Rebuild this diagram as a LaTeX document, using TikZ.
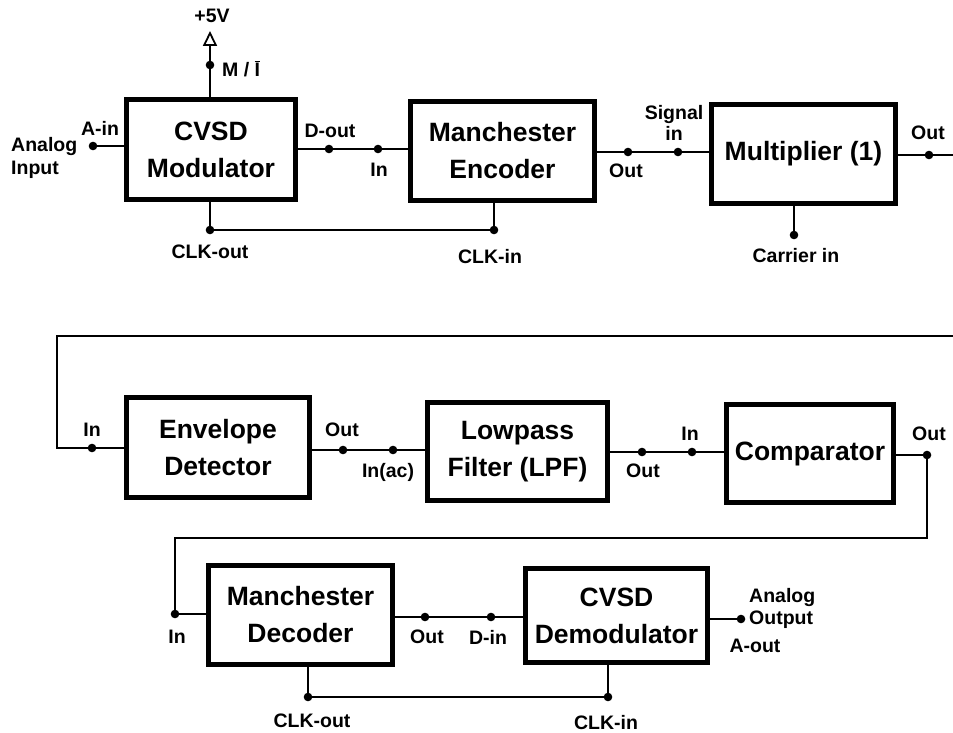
\documentclass[tikz,border=0pt]{standalone}
\usepackage{fontspec}
\setmainfont{Liberation Sans}
\usetikzlibrary{arrows.meta}
\tikzset{
  blk/.style={draw, line width=5pt, fill=white, align=center, inner sep=0pt,
    font=\bfseries\fontsize{26.5}{37}\selectfont},
  wire/.style={line width=2.2pt},
  lbl/.style={font=\bfseries\fontsize{19.5}{22}\selectfont, inner sep=0pt}
}
\newcommand{\dotat}[1]{\fill (#1) circle (4.3pt);}
\begin{document}
\begin{tikzpicture}[x=1pt,y=-1pt]
\useasboundingbox (0,0) rectangle (953,733);
% ---------- row 1 ----------
\node[blk, minimum width=169pt, minimum height=100pt] (mod) at (211,149.5) {CVSD\\Modulator};
\node[blk, minimum width=184pt, minimum height=99pt] (enc) at (502.5,151) {Manchester\\Encoder};
\node[blk, minimum width=184pt, minimum height=99pt] (mul) at (803.5,154) {Multiplier (1)};
\coordinate (tip) at (210,31);
\coordinate (mi) at (210,65);
\coordinate (ain) at (93,146);
\coordinate (dout) at (329,149);
\coordinate (encin) at (378,149);
\coordinate (clkout) at (210,230);
\coordinate (clkin) at (494,230);
\coordinate (encout) at (628,152);
\coordinate (sigin) at (678,152);
\coordinate (carrier) at (794,235);
\coordinate (mulout) at (929,155);
\coordinate (r1) at (953,155);
\draw[wire, -{Triangle[open, length=15pt, width=14pt, line width=1.8pt]}] (tip |- mod.north) -- (tip);
\draw[wire] (ain) -- (mod.west |- ain);
\draw[wire] (mod.east |- dout) -- (enc.west |- dout);
\draw[wire] (clkout |- mod.south) -- (clkout) -- (clkin) -- (clkin |- enc.south);
\draw[wire] (enc.east |- encout) -- (mul.west |- encout);
\draw[wire] (carrier |- mul.south) -- (carrier);
\draw[wire] (mul.east |- mulout) -- (r1);
\dotat{mi}\dotat{ain}\dotat{dout}\dotat{encin}\dotat{clkout}\dotat{clkin}
\dotat{encout}\dotat{sigin}\dotat{carrier}\dotat{mulout}
\node[lbl] (p5) at (212,16) {+5V};
\node[lbl, anchor=west] (mil) at (222,69) {M / $\overline{\mbox{I}}$};
\node[lbl] (ainl) at (100,128) {A-in};
\node[lbl, anchor=west, align=left, font=\bfseries\fontsize{19.5}{23}\selectfont] (anin) at (11,158) {Analog\\Input};
\node[lbl] (doutl) at (330,131) {D-out};
\node[lbl] (encinl) at (379,170) {In};
\node[lbl] (clkoutl) at (210,252) {CLK-out};
\node[lbl] (clkinl) at (490,257) {CLK-in};
\node[lbl] (encoutl) at (626,171) {Out};
\node[lbl, align=center, font=\bfseries\fontsize{19.5}{21}\selectfont] (siginl) at (674,123) {Signal\\in};
\node[lbl] (carrl) at (796,256) {Carrier in};
\node[lbl] (muloutl) at (928,133) {Out};
% ---------- row 2 ----------
\node[blk, minimum width=183pt, minimum height=100pt] (env) at (218,447.5) {Envelope\\Detector};
\node[blk, minimum width=180pt, minimum height=98pt] (lpf) at (517.5,451.5) {Lowpass\\Filter (LPF)};
\node[blk, minimum width=167pt, minimum height=98pt] (comp) at (810,453.5) {Comparator};
\coordinate (r2) at (953,336);
\coordinate (l2) at (57,336);
\coordinate (envin) at (92,448);
\coordinate (envout) at (343,450);
\coordinate (lpfin) at (393,450);
\coordinate (lpfout) at (642,452);
\coordinate (compin) at (692,452);
\coordinate (compout) at (927,455);
\coordinate (c3r) at (927,538);
\coordinate (c3l) at (175,538);
\coordinate (decin) at (175,614);
\draw[wire] (r2) -- (l2) -- (l2 |- envin) -- (env.west |- envin);
\draw[wire] (env.east |- envout) -- (lpf.west |- envout);
\draw[wire] (lpf.east |- lpfout) -- (comp.west |- lpfout);
\draw[wire] (comp.east |- compout) -- (compout) -- (c3r) -- (c3l) -- (decin);
\dotat{envin}\dotat{envout}\dotat{lpfin}\dotat{lpfout}\dotat{compin}\dotat{compout}
\node[lbl] (envinl) at (92,430) {In};
\node[lbl] (envoutl) at (342,430) {Out};
\node[lbl] (lpfinl) at (388,472) {In(ac)};
\node[lbl] (lpfoutl) at (643,471) {Out};
\node[lbl] (compinl) at (690,434) {In};
\node[lbl] (compoutl) at (929,434) {Out};
% ---------- row 3 ----------
\node[blk, minimum width=184pt, minimum height=99pt] (dec) at (300.5,615) {Manchester\\Decoder};
\node[blk, minimum width=182pt, minimum height=94pt] (dem) at (616.5,615.5) {CVSD\\Demodulator};
\coordinate (decout) at (425,617);
\coordinate (din) at (491,617);
\coordinate (aout) at (741,619);
\coordinate (dclk) at (308,697);
\coordinate (mclk) at (608,697);
\draw[wire] (decin) -- (dec.west |- decin);
\draw[wire] (dec.east |- decout) -- (dem.west |- decout);
\draw[wire] (dem.east |- aout) -- (aout);
\draw[wire] (dclk |- dec.south) -- (dclk) -- (mclk) -- (mclk |- dem.south);
\dotat{decin}\dotat{decout}\dotat{din}\dotat{aout}\dotat{dclk}\dotat{mclk}
\node[lbl] (decinl) at (177,637) {In};
\node[lbl] (decoutl) at (427,637) {Out};
\node[lbl] (dinl) at (488,637) {D-in};
\node[lbl, anchor=west, align=left, font=\bfseries\fontsize{19.5}{22}\selectfont] (aoutl) at (749,608) {Analog\\Output};
\node[lbl] (aoutl2) at (755,646) {A-out};
\node[lbl] (dclkl) at (312,721) {CLK-out};
\node[lbl] (mclkl) at (606,723) {CLK-in};
\end{tikzpicture}
\end{document}
